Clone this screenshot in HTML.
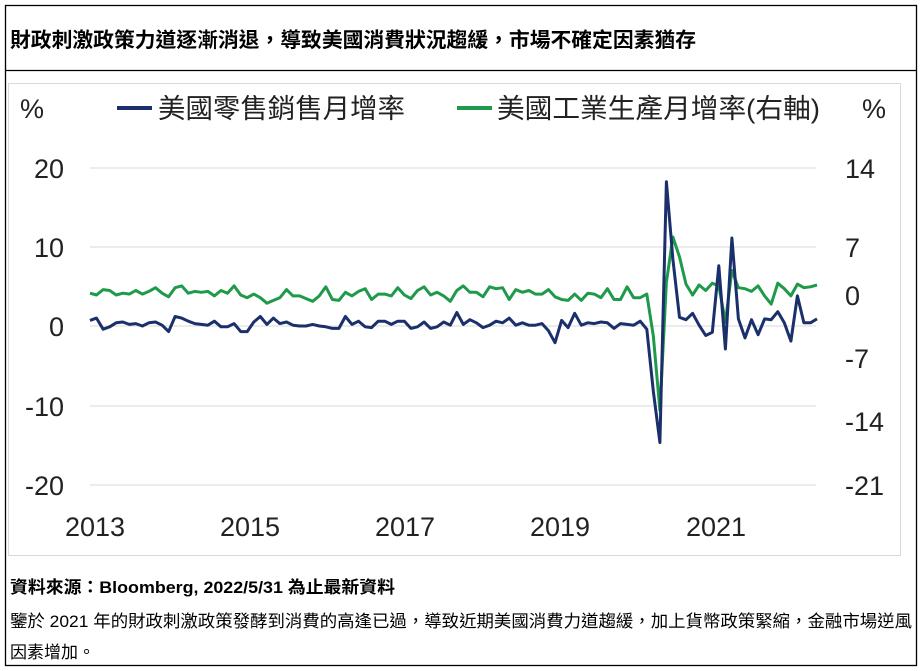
<!DOCTYPE html>
<html><head><meta charset="utf-8"><style>
body{margin:0;background:#fff;width:923px;height:671px;overflow:hidden;font-family:"Liberation Sans","Noto Sans CJK TC",sans-serif}
svg{position:absolute;left:0;top:0}
</style></head><body>
<svg id="s" width="923" height="671" xmlns="http://www.w3.org/2000/svg" font-family="Liberation Sans, Noto Sans CJK TC, sans-serif">
<rect x="5.5" y="5.5" width="911" height="660" fill="none" stroke="#000" stroke-width="1.3"/>
<line x1="5" y1="70.5" x2="917" y2="70.5" stroke="#000" stroke-width="1.3"/>
<text x="10" y="47" font-size="20.5" font-weight="bold" fill="#000" textLength="686" lengthAdjust="spacingAndGlyphs">財政刺激政策力道逐漸消退，導致美國消費狀況趨緩，市場不確定因素猶存</text>
<rect x="8.5" y="83.5" width="892" height="472" fill="none" stroke="#d9d9d9"/>
<g stroke="#d9d9d9" stroke-width="1">
<line x1="90" y1="168" x2="816" y2="168"/><line x1="90" y1="247" x2="816" y2="247"/><line x1="90" y1="326" x2="816" y2="326"/><line x1="90" y1="406" x2="816" y2="406"/><line x1="90" y1="485" x2="816" y2="485"/>
</g>
<g font-size="27" fill="#222">
<text x="20" y="118">%</text><text x="862" y="118">%</text>
<text x="64" y="178" text-anchor="end">20</text><text x="64" y="257" text-anchor="end">10</text><text x="64" y="336" text-anchor="end">0</text><text x="64" y="416" text-anchor="end">-10</text><text x="64" y="495" text-anchor="end">-20</text>
<text x="845" y="178">14</text><text x="845" y="257">7</text><text x="845" y="305">0</text><text x="845" y="368">-7</text><text x="845" y="431">-14</text><text x="845" y="495">-21</text>
<text x="95" y="536" text-anchor="middle">2013</text><text x="250" y="536" text-anchor="middle">2015</text><text x="405" y="536" text-anchor="middle">2017</text><text x="560" y="536" text-anchor="middle">2019</text><text x="716" y="536" text-anchor="middle">2021</text>
<text x="158" y="118" textLength="247" lengthAdjust="spacingAndGlyphs">美國零售銷售月增率</text><text x="497" y="118" textLength="323" lengthAdjust="spacingAndGlyphs">美國工業生產月增率(右軸)</text>
</g>
<line x1="117" y1="108" x2="152" y2="108" stroke="#1a2f6b" stroke-width="4"/>
<line x1="457" y1="108" x2="492" y2="108" stroke="#1e9a4a" stroke-width="4"/>
<polyline id="g" fill="none" stroke="#1e9a4a" stroke-width="3" stroke-linejoin="round"/>
<polyline id="b" fill="none" stroke="#1a2f6b" stroke-width="3" stroke-linejoin="round"/>
<text x="10" y="593" font-size="17" font-weight="bold" fill="#000" textLength="385" lengthAdjust="spacingAndGlyphs">資料來源：Bloomberg, 2022/5/31 為止最新資料</text>
<text x="10" y="627" font-size="17" fill="#000" textLength="902" lengthAdjust="spacingAndGlyphs">鑒於 2021 年的財政刺激政策發酵到消費的高逢已過，導致近期美國消費力道趨緩，加上貨幣政策緊縮，金融市場逆風</text>
<text x="10" y="658" font-size="17" fill="#000">因素增加。</text>
</svg>
<script>
var r=[0.7,1.0,-0.4,-0.1,0.4,0.5,0.2,0.3,0.0,0.4,0.5,0.1,
-0.7,1.2,1.0,0.6,0.3,0.2,0.1,0.6,-0.1,-0.1,0.3,-0.7,
-0.7,0.5,1.2,0.2,1.0,0.3,0.5,0.1,0.0,0.0,0.2,0.0,
-0.1,-0.3,-0.3,1.2,0.2,0.6,-0.1,-0.2,0.6,0.6,0.2,0.6,
0.6,-0.3,-0.1,0.5,-0.3,-0.1,0.5,0.1,1.7,0.2,0.8,0.4,
-0.2,0.1,0.6,0.4,1.0,0.1,0.4,0.1,0.1,0.3,-0.6,-2.1,
0.7,-0.2,1.6,0.1,0.4,0.3,0.5,0.4,-0.3,0.3,0.2,0.1,
0.6,-0.4,-8.2,-14.7,18.2,8.4,1.1,0.8,1.6,0.1,-1.2,-0.8,
7.6,-2.9,11.1,0.9,-1.5,0.8,-1.1,0.9,0.8,1.8,0.4,-1.9,
3.8,0.4,0.4,0.9];
var g=[0.2,0.0,0.6,0.5,0.0,0.2,0.1,0.5,0.1,0.4,0.8,0.2,
-0.2,0.8,1.0,0.2,0.4,0.3,0.4,-0.1,0.5,0.2,1.0,0.0,
-0.3,0.1,-0.3,-0.9,-0.6,-0.3,0.6,-0.1,-0.1,-0.4,-0.7,-0.1,
0.9,-0.5,-0.6,0.3,-0.1,0.4,0.7,-0.5,0.1,0.1,-0.1,0.8,
0.0,-0.4,0.5,0.9,0.0,0.3,-0.1,-0.7,0.5,1.0,0.3,0.3,
-0.2,0.9,0.7,0.8,-0.5,0.6,0.3,0.5,0.1,0.1,0.6,-0.2,
-0.5,-0.6,0.1,-0.6,0.2,0.1,-0.3,0.7,-0.5,-0.5,0.9,-0.3,
-0.3,0.1,-4.5,-12.7,1.4,6.4,4.2,1.2,0.0,1.1,0.5,1.3,
1.0,-3.0,2.7,0.8,0.7,0.4,1.0,-0.1,-1.0,1.3,0.7,-0.1,
1.2,0.8,0.9,1.1];
function pts(a,f){return a.map(function(v,i){return (90+i*6.55).toFixed(1)+','+f(v).toFixed(1)}).join(' ')}
document.getElementById('b').setAttribute('points',pts(r,function(v){return 326-v*7.93}));
document.getElementById('g').setAttribute('points',pts(g,function(v){return 295-v*9.07}));
</script>
</body></html>
